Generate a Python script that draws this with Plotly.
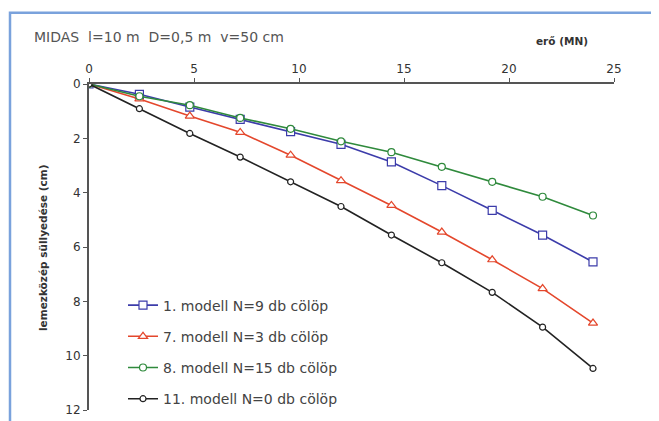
import plotly.graph_objects as go

x_force = [0, 2.4, 4.8, 7.2, 9.6, 12, 14.4, 16.8, 19.2, 21.6, 24]
model1 = [0, 0.38, 0.85, 1.30, 1.75, 2.22, 2.87, 3.74, 4.65, 5.56, 6.55]
model7 = [0, 0.55, 1.18, 1.78, 2.62, 3.56, 4.47, 5.45, 6.47, 7.53, 8.80]
model8 = [0, 0.45, 0.78, 1.25, 1.65, 2.11, 2.51, 3.05, 3.60, 4.15, 4.84]
model11 = [0, 0.91, 1.82, 2.69, 3.60, 4.51, 5.56, 6.58, 7.67, 8.95, 10.47]

names = ["1. modell N=9 db cölöp", "7. modell N=3 db cölöp",
         "8. modell N=15 db cölöp", "11. modell N=0 db cölöp"]
series = [model1, model7, model8, model11]
colors = ["#3c3caa", "#e4472c", "#2f8a3c", "#222222"]
symbols = ["square", "triangle-up", "circle", "circle"]
sizes = [8, 8, 7, 6]

FONT = "DejaVu Sans, Liberation Sans, Arial, sans-serif"

fig = go.Figure()
for i, (n, s) in enumerate(zip(names, series)):
    fig.add_trace(go.Scatter(
        x=x_force, y=s, name=n, mode="lines+markers",
        line=dict(color=colors[i], width=1.6),
        marker=dict(symbol=symbols[i], size=sizes[i], color="white",
                    line=dict(color=colors[i], width=1.2)),
        legendgroup=str(i)))

OFF = 8  # page body margin
L, T, W, H = 89, 84, 525, 330  # plot area in screen pixels
fig.update_layout(
    width=659, height=421,
    margin=dict(l=L - OFF, r=659 - (L - OFF) - W, t=T - OFF, b=421 - (T - OFF) - H),
    paper_bgcolor="white", plot_bgcolor="white",
    font=dict(family=FONT, size=12, color="#333"),
    showlegend=True,
    legend=dict(x=(123 - L) / W, y=1 - (292 - T) / H, xanchor="left", yanchor="top",
                bgcolor="rgba(0,0,0,0)", font=dict(size=14, color="#444"),
                tracegroupgap=10, itemwidth=30),
    xaxis=dict(range=[0, 25], side="top", tickvals=[0, 5, 10, 15, 20, 25],
               showgrid=False, zeroline=False, showline=True, linecolor="#555",
               linewidth=2, ticks="outside", ticklen=4, tickcolor="#555",
               tickfont=dict(size=12, color="#333")),
    yaxis=dict(range=[12, 0], tickvals=[0, 2, 4, 6, 8, 10, 12],
               showgrid=False, zeroline=False, showline=True, linecolor="#555",
               linewidth=2, ticks="outside", ticklen=4, tickcolor="#555",
               tickfont=dict(size=12, color="#333")),
)

fig.add_shape(type="rect", xref="paper", yref="paper",
              x0=(10 - L) / W, x1=(690 - L) / W,
              y0=1 - (450 - T) / H, y1=1 + (T - 12) / H,
              line=dict(color="#7aa2dc", width=2.5), fillcolor="rgba(0,0,0,0)", layer="below")

fig.add_annotation(text="MIDAS  l=10 m  D=0,5 m  v=50 cm", xref="paper", yref="paper",
                   x=(32 - L) / W, y=1 + (T - 36) / H, xanchor="left", yanchor="middle",
                   showarrow=False, font=dict(size=14, color="#555"))
fig.add_annotation(text="<b>erő (MN)</b>", xref="paper", yref="paper",
                   x=(562 - L) / W, y=1 + (T - 40) / H, xanchor="center", yanchor="middle",
                   showarrow=False, font=dict(size=10.5, color="#333"))
fig.add_annotation(text="<b>lemezközép süllyedése (cm)</b>", xref="paper", yref="paper",
                   x=(43 - L) / W, y=1 - (250 - T) / H, xanchor="center", yanchor="middle",
                   textangle=-90, showarrow=False, font=dict(size=10.5, color="#333"))

fig.write_html("out.html")
